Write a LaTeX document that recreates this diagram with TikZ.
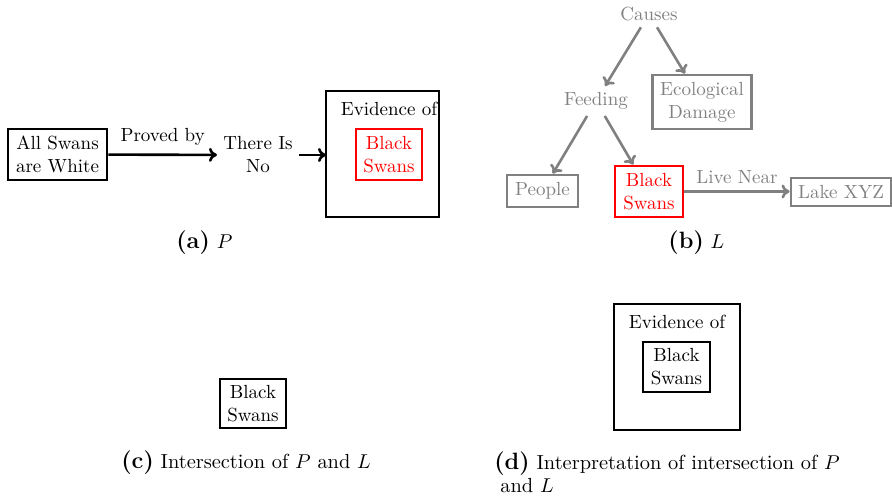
\documentclass[tikz,border=0pt]{standalone}
\usetikzlibrary{arrows.meta}
\definecolor{lgray}{gray}{0.5}
\newcommand{\dfont}{\fontsize{9.5}{11.5}\selectfont}
\newcommand{\cfont}{\fontsize{10.2}{12}\selectfont}
\newcommand{\lbl}[1]{{\fontsize{11.8}{14}\selectfont\bfseries (#1)}}
\tikzset{
  box/.style={draw, line width=1.4pt, align=center, inner sep=3pt, font=\dfont},
  gbox/.style={box, draw=lgray, text=lgray},
  rbox/.style={box, draw=red, text=red},
  txt/.style={align=center, inner sep=3pt, font=\dfont},
  gtxt/.style={txt, text=lgray},
  arr/.style={-{To[length=4pt,width=7pt]}, line width=1.3pt},
  garr/.style={arr, draw=lgray},
  captxt/.style={inner sep=0pt, anchor=base west, font=\cfont}
}
\begin{document}
\begin{tikzpicture}[x=0.5pt,y=-0.5pt]
\useasboundingbox (0,0) rectangle (892,496);
% (a)
\node[box, minimum width=49.5pt, minimum height=25.5pt] (allswans) at (57.5,154.5) {All Swans\\are White};
\node[txt] (thereisno) at (258,155) {There Is\\No};
\draw[box] (326,91) rectangle (439,217);
\node[txt] (evid1) at (389,109) {Evidence of};
\node[rbox, minimum width=33pt, minimum height=25.5pt] (bsa) at (389,154.5) {Black\\Swans};
\coordinate (bigwest) at (326,155);
\draw[arr] (allswans) -- node[txt, above, inner sep=4pt] {Proved by} (thereisno);
\draw[arr] (thereisno) -- (bigwest);
\node[captxt] (capa) at (176,249) {\lbl{a} $P$};
% (b)
\node[gtxt] (causes) at (649,14) {Causes};
\node[gtxt] (feeding) at (596,101) {Feeding};
\node[gbox, minimum width=49.5pt, minimum height=27pt] (eco) at (702,102) {Ecological\\Damage};
\node[gbox, minimum width=35.5pt, minimum height=16pt] (people) at (542.5,191) {People};
\node[rbox, minimum width=34pt, minimum height=25.5pt] (bsb) at (649,191.5) {Black\\Swans};
\node[gbox, minimum width=50pt, minimum height=14pt] (lake) at (841,192) {Lake XYZ};
\draw[garr] (causes) -- (feeding);
\draw[garr] (causes) -- (eco);
\draw[garr] (feeding) -- (people);
\draw[garr] (feeding) -- (bsb);
\draw[garr] (bsb) -- node[gtxt, above, inner sep=3pt] {Live Near} (bsb -| lake.west);
\node[captxt] (capb) at (668,249) {\lbl{b} $L$};
% (c)
\node[box, minimum width=33pt, minimum height=24.5pt] (bsc) at (253,403.5) {Black\\Swans};
\node[captxt] (capc) at (121,468) {\lbl{c} Intersection of $P$ and $L$};
% (d)
\draw[box] (614,304) rectangle (740,430);
\node[txt] (evid2) at (677,322) {Evidence of};
\node[box, minimum width=33.5pt, minimum height=25pt] (bsd) at (676.5,367) {Black\\Swans};
\node[captxt] (capd1) at (494,469) {\lbl{d} Interpretation of intersection of $P$};
\node[captxt] (capd2) at (500,492) {and $L$};
\end{tikzpicture}
\end{document}
